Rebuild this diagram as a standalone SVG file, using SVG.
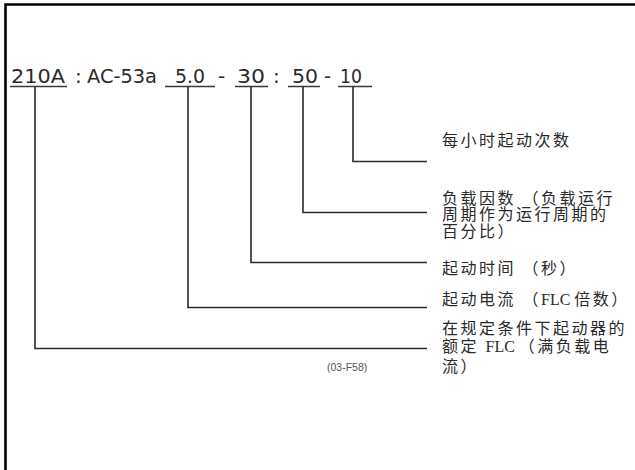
<svg xmlns="http://www.w3.org/2000/svg" width="635" height="470" viewBox="0 0 635 470">
<style>
.code{font-family:"DejaVu Sans","Liberation Sans",sans-serif;font-size:20px;fill:#2a2a2a}
.lbl{font-family:"Liberation Serif","Noto Sans CJK SC",serif;font-size:16px;fill:#2a2a2a;letter-spacing:2.5px}
.lat{letter-spacing:0}
.ref{font-family:"Liberation Sans",Arial,sans-serif;font-size:10.5px;fill:#555}
.ln{stroke:#2a2a2a;stroke-width:1.6;fill:none}
.ul{stroke:#3a3a3a;stroke-width:1.4;fill:none}
</style>
<rect width="635" height="470" fill="#fff"/>
<g id="frame">
<path d="M5.5,470 V4.5 H635" fill="none" stroke="#000" stroke-width="2.6"/>
</g>
<g id="code">
<text class="code" x="11" y="83" textLength="54" lengthAdjust="spacingAndGlyphs">210A</text>
<text class="code" x="75" y="83">:</text>
<text class="code" x="87" y="83" textLength="70" lengthAdjust="spacingAndGlyphs">AC-53a</text>
<text class="code" x="175" y="83" textLength="30" lengthAdjust="spacingAndGlyphs">5.0</text>
<text class="code" x="218" y="83">-</text>
<text class="code" x="237" y="83" textLength="28" lengthAdjust="spacingAndGlyphs">30</text>
<text class="code" x="273" y="83">:</text>
<text class="code" x="292" y="83" textLength="26" lengthAdjust="spacingAndGlyphs">50</text>
<text class="code" x="324" y="83">-</text>
<text class="code" x="340" y="83" textLength="22" lengthAdjust="spacingAndGlyphs">10</text>
<path class="ul" d="M10,86.5H67 M165,86.5H215 M235,86.5H268 M288,86.5H320 M338,86.5H372"/>
</g>
<g id="connectors">
<path class="ln" d="M353,86.5V161.5H427"/>
<path class="ln" d="M303,86.5V212.5H427"/>
<path class="ln" d="M251,86.5V262.5H427"/>
<path class="ln" d="M188,86.5V307.5H427"/>
<path class="ln" d="M35,86.5V348.5H427"/>
</g>
<g id="n1"><text class="lbl" x="442" y="146">每小时起动次数</text></g>
<g id="n2">
<text class="lbl" x="442" y="204">负载因数 （负载运行</text>
<text class="lbl" x="442" y="220">周期作为运行周期的</text>
<text class="lbl" x="442" y="237">百分比）</text>
</g>
<g id="n3"><text class="lbl" x="442" y="274">起动时间 （秒）</text></g>
<g id="n4"><text class="lbl" x="442" y="305">起动电流 （<tspan class="lat">FLC </tspan>倍数）</text></g>
<g id="n5">
<text class="lbl" x="442" y="334">在规定条件下起动器的</text>
<text class="lbl" x="442" y="352">额定 <tspan class="lat">FLC </tspan>（满负载电</text>
<text class="lbl" x="442" y="372">流）</text>
</g>
<text class="ref" x="327" y="371">(03-F58)</text>
</svg>
